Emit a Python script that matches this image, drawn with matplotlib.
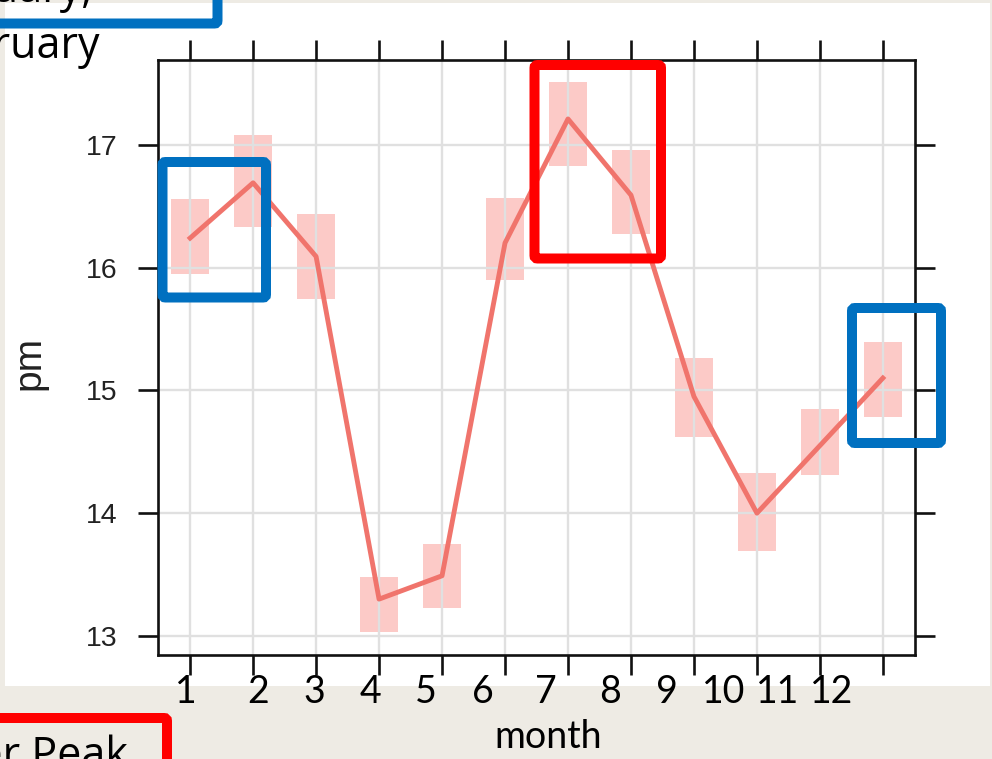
import matplotlib
matplotlib.use("Agg")
import matplotlib.pyplot as plt
from matplotlib.patches import Rectangle, FancyBboxPatch
from matplotlib.transforms import IdentityTransform

# ---------------- data ----------------
months = [1, 2, 3, 4, 5, 6, 7, 8, 9, 10, 11, 12]
pm_mean = [16.24, 16.69, 16.09, 13.30, 13.49, 16.20, 17.21, 16.59, 14.95, 14.00, 14.55, 15.10]
ci_upper = [16.56, 17.08, 16.44, 13.48, 13.75, 16.57, 17.51, 16.96, 15.26, 14.33, 14.85, 15.39]
ci_lower = [15.95, 16.33, 15.74, 13.03, 13.23, 15.90, 16.83, 16.27, 14.62, 13.69, 14.31, 14.78]
y_ticks = [13, 14, 15, 16, 17]
slide_month_labels = ["1", "2", "3", "4", "5", "6", "7", "8", "9", "10", "11", "12"]
x_label = "month"
y_label = "pm"
title_line1 = "January,"
title_line2 = "February"
peak_text = "Summer Peak"

# ---------------- layout (pixels) ----------------
W, H = 992, 759
fig = plt.figure(figsize=(W / 100, H / 100), dpi=100, facecolor="#EEEBE4")
ID = IdentityTransform()


def P(x, y):
    return (x, H - y)


# white picture panel of the slide
fig.patches.append(Rectangle(P(5, 686), 985, 683, transform=ID,
                             facecolor="white", edgecolor="none", zorder=-5))

ax = fig.add_axes([158 / W, 1 - 655 / H, (915 - 158) / W, (655 - 60) / H])
ax.set_zorder(1)
ax.set_facecolor("none")
ax.set_xlim(0.49, 12.51)
ax.set_ylim(12.845, 17.69)

for m, lo, hi in zip(months, ci_lower, ci_upper):
    ax.add_patch(Rectangle((m - 0.3, lo), 0.6, hi - lo, facecolor="#F8766D",
                           alpha=0.38, edgecolor="none", zorder=1))
ax.plot(months, pm_mean, color="#F0746C", lw=3.5, zorder=3)

ax.set_xticks(months)
ax.set_yticks(y_ticks)
ax.set_yticklabels([str(t) for t in y_ticks], family="Liberation Sans")
ax.grid(True, color="#E0E0E0", lw=1.7)
ax.set_axisbelow(False)
for l in ax.get_xgridlines() + ax.get_ygridlines():
    l.set_zorder(2)
ax.tick_params(direction="out", length=14.4, width=1.9, top=True, right=True,
               labelbottom=False, labelsize=20.5, pad=14.4, color="#111111",
               labelcolor="#222222")
for s in ax.spines.values():
    s.set_linewidth(1.9)
    s.set_color("#111111")
    s.set_zorder(4)

fig.text(29 / W, 1 - 363 / H, y_label, rotation=90, ha="center", va="center",
         fontsize=28, family="Liberation Sans", color="#222222")

# slide text overlaid below the picture
label_x = [186, 258, 314, 370, 426, 483, 546, 610, 667, 724, 778, 832]
for lx, lab in zip(label_x, slide_month_labels):
    fig.text(lx / W, 1 - 703 / H, lab, ha="center", va="baseline",
             fontsize=27, family="Lato", color="black")
fig.text(548 / W, 1 - 748 / H, x_label, ha="center", va="baseline",
         fontsize=27, family="Lato", color="black")

fig.text(100 / W, 1 - 58 / H, title_line2, ha="right", va="baseline",
         fontsize=31, family="Open Sans", color="black")
fig.text(93 / W, 1 - 2 / H, title_line1, ha="right", va="baseline",
         fontsize=31, family="Open Sans", color="black")
fig.text(128 / W, 1 - 768 / H, peak_text, ha="right", va="baseline",
         fontsize=31, family="Open Sans", color="black")

# annotation frames on the slide
frames = [
    ((162.5, 162, 266, 297.5), "#0070C0"),
    ((534.5, 65, 661, 258.5), "#FF0000"),
    ((852, 308, 941, 443), "#0070C0"),
    ((-30, -40, 217.5, 23.5), "#0070C0"),
    ((-30, 718, 167, 820), "#FF0000"),
]
for (x0, y0, x1, y1), col in frames:
    fig.patches.append(FancyBboxPatch(P(x0, y1), x1 - x0, y1 - y0,
                                      boxstyle="round,pad=0,rounding_size=3",
                                      transform=ID, facecolor="none",
                                      edgecolor=col, lw=7.2, zorder=10))

fig.savefig("out.png", dpi=100, facecolor=fig.get_facecolor())
